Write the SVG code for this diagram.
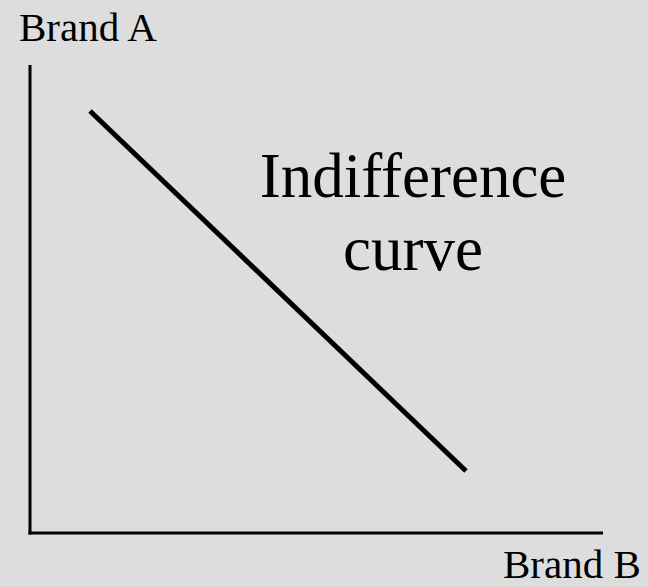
<svg xmlns="http://www.w3.org/2000/svg" width="648" height="587" viewBox="0 0 648 587">
<style>
.lbl{font-family:"Liberation Serif","Times New Roman",serif;fill:#000}
.ax{stroke:#000;stroke-width:3;fill:none}
.crv{stroke:#000;stroke-width:5;fill:none}
</style>
<rect width="648" height="587" fill="#dddddd"/>
<g id="axes">
<line class="ax" x1="30" y1="65" x2="30" y2="534.5"/>
<line class="ax" x1="28.5" y1="533" x2="603" y2="533"/>
</g>
<g id="curve">
<line class="crv" x1="90" y1="111" x2="466" y2="471"/>
</g>
<g id="label-a"><text class="lbl" x="19" y="41" font-size="41">Brand A</text></g>
<g id="label-b"><text class="lbl" x="503" y="578" font-size="41">Brand B</text></g>
<g id="label-curve">
<text class="lbl" x="413" y="197" font-size="63" text-anchor="middle">Indifference</text>
<text class="lbl" x="413" y="270" font-size="63" text-anchor="middle">curve</text>
</g>
</svg>
